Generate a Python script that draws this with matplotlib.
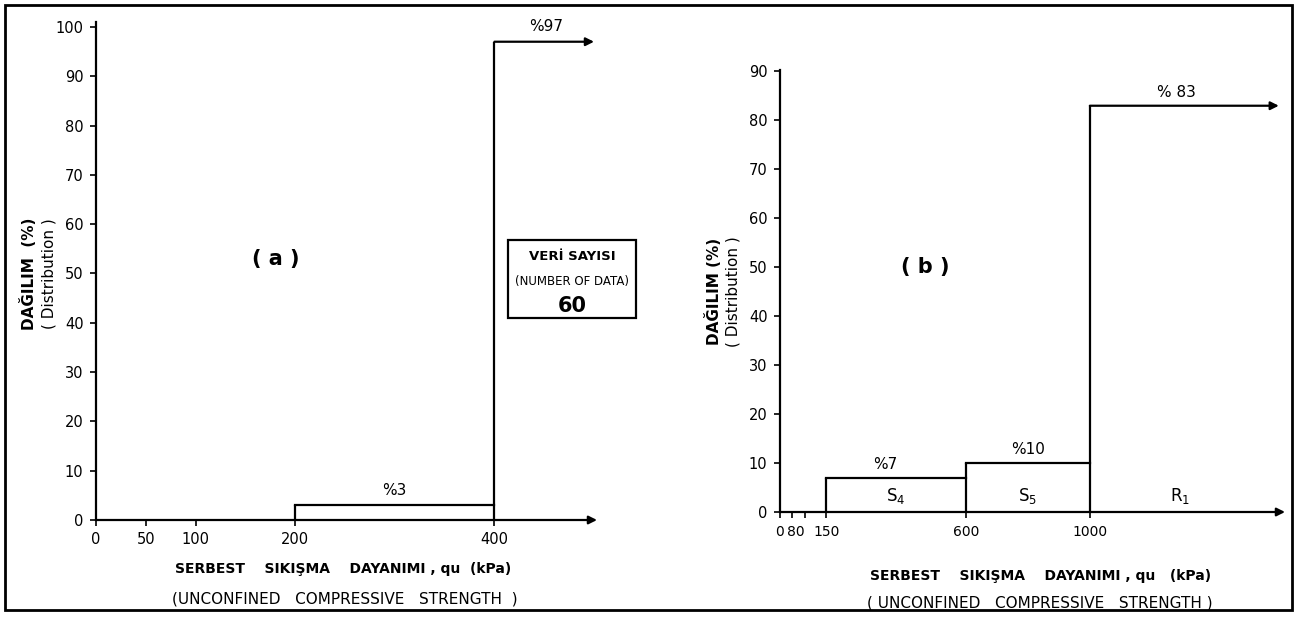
import matplotlib
matplotlib.use("Agg")
from matplotlib import pyplot as plt
from matplotlib import patches as patches

# panel (a)
a_edges = [200, 400]
a_pct = [3, 97]
a_labels = ["%3", "%97"]
a_end = 500
a_xticks = [0, 50, 100, 200, 400]
a_yticks = [0, 10, 20, 30, 40, 50, 60, 70, 80, 90, 100]

# panel (b)
b_edges = [150, 600, 1000]
b_pct = [7, 10, 83]
b_labels = ["%7", "%10", "% 83"]
b_classes = ["S$_4$", "S$_5$", "R$_1$"]
b_end = 1610
b_xticks = [0, 40, 80, 150, 600, 1000]
b_xticklabels = ["0", "", "80", "150", "600", "1000"]
b_yticks = [0, 10, 20, 30, 40, 50, 60, 70, 80, 90]

n_data = 60

plt.rcParams['font.family'] = ['DejaVu Sans']
W, H = 1297, 618
fig = plt.figure(figsize=(W / 100, H / 100), dpi=100)


def px(x0, y0, x1, y1):
    # pixel box (top-left origin) -> figure fraction
    return [x0 / W, 1 - y1 / H, (x1 - x0) / W, (y1 - y0) / H]


def step_plot(ax, edges, pct, end):
    ends = edges[1:] + [end]
    for i, (x0, x1, h) in enumerate(zip(edges, ends, pct)):
        ax.plot([x0, x0], [0, h], c='k', lw=1.6, solid_capstyle='butt')
        if i < len(edges) - 1:
            ax.plot([x0, x1], [h, h], c='k', lw=1.6)
        else:
            ax.annotate("", xy=(x1, h), xytext=(x0, h),
                        arrowprops=dict(arrowstyle='-|>', lw=1.6, color='k',
                                        mutation_scale=12, shrinkA=0, shrinkB=0))


def setup(ax, xmax, ymax, xticks, yticks, xticklabels=None):
    for s in ax.spines.values():
        s.set_visible(False)
    ax.set_xlim(0, xmax)
    ax.set_ylim(0, ymax)
    ax.plot([0, 0], [0, ymax], c='k', lw=1.6, clip_on=False)
    ax.annotate("", xy=(xmax, 0), xytext=(0, 0),
                arrowprops=dict(arrowstyle='-|>', lw=1.6, color='k',
                                mutation_scale=12, shrinkA=0, shrinkB=0))
    ax.set_xticks(xticks)
    if xticklabels is not None:
        ax.set_xticklabels(xticklabels)
    ax.set_yticks(yticks)
    ax.tick_params(direction='out', length=4, width=1.2, labelsize=10.5, pad=5)
    ax.patch.set_alpha(0)


# ---- (a)
ax1 = fig.add_axes(px(96, 22, 597, 520))
setup(ax1, 503, 101, a_xticks, a_yticks)
step_plot(ax1, a_edges, a_pct, a_end)
ax1.text(300, a_pct[0] + 1.5, a_labels[0], ha='center', va='bottom', fontsize=11)
ax1.text(452, a_pct[1] + 1.5, a_labels[1], ha='center', va='bottom', fontsize=11)
ax1.text(180, 53, "( a )", ha='center', va='center', fontsize=15, fontweight='bold')
ax1.text(-68, 50, "DAĞILIM  (%)", rotation=90, ha='center', va='center',
         fontsize=11, fontweight='bold')
ax1.text(-47, 50, "( Distribution )", rotation=90, ha='center', va='center', fontsize=11)
ax1.text(248, -10, "SERBEST    SIKIŞMA    DAYANIMI , qu  (kPa)", ha='center',
         va='center', fontsize=10, fontweight='bold')
ax1.text(250, -16, "(UNCONFINED   COMPRESSIVE   STRENGTH  )", ha='center',
         va='center', fontsize=11)

# data count box
box = patches.Rectangle((508 / W, 1 - 318 / H), 128 / W, 78 / H, fill=False,
                        lw=1.6, ec='k', transform=fig.transFigure)
fig.add_artist(box)
fig.text(572 / W, 1 - 257 / H, "VERİ SAYISI", ha='center', va='center',
         fontsize=9.5, fontweight='bold')
fig.text(572 / W, 1 - 282 / H, "(NUMBER OF DATA)", ha='center', va='center',
         fontsize=8.5)
fig.text(572 / W, 1 - 306 / H, str(n_data), ha='center', va='center',
         fontsize=15, fontweight='bold')

# ---- (b)
ax2 = fig.add_axes(px(780, 70, 1285, 512))
setup(ax2, 1630, 90.3, b_xticks, b_yticks, b_xticklabels)
ax2.tick_params(axis='x', labelsize=10)
ax2.get_xticklabels()[2].set_ha('right')
step_plot(ax2, b_edges, b_pct, b_end)
ends = b_edges[1:] + [b_end]
lx = [340, 800, 1280]
for x0, x1, h, lab, cls, xx in zip(b_edges, ends, b_pct, b_labels, b_classes, lx):
    ax2.text(xx, h + 1.2, lab, ha='center', va='bottom', fontsize=11)
    ax2.text((x0 + x1) / 2 if cls != "R$_1$" else 1290, 3.2, cls,
             ha='center', va='center', fontsize=12)
ax2.text(470, 50, "( b )", ha='center', va='center', fontsize=15, fontweight='bold')
ax2.text(-215, 45, "DAĞILIM (%)", rotation=90, ha='center', va='center',
         fontsize=11, fontweight='bold')
ax2.text(-152, 45, "( Distribution )", rotation=90, ha='center', va='center', fontsize=11)
ax2.text(840, -13, "SERBEST    SIKIŞMA    DAYANIMI , qu   (kPa)", ha='center',
         va='center', fontsize=10, fontweight='bold')
ax2.text(840, -18.5, "( UNCONFINED   COMPRESSIVE   STRENGTH )", ha='center',
         va='center', fontsize=11)

# outer frame
fig.add_artist(patches.Rectangle((5 / W, 8 / H), 1287 / W, 605 / H, fill=False,
                                 lw=2, ec='k', transform=fig.transFigure))

fig.savefig("out.png", dpi=100)
